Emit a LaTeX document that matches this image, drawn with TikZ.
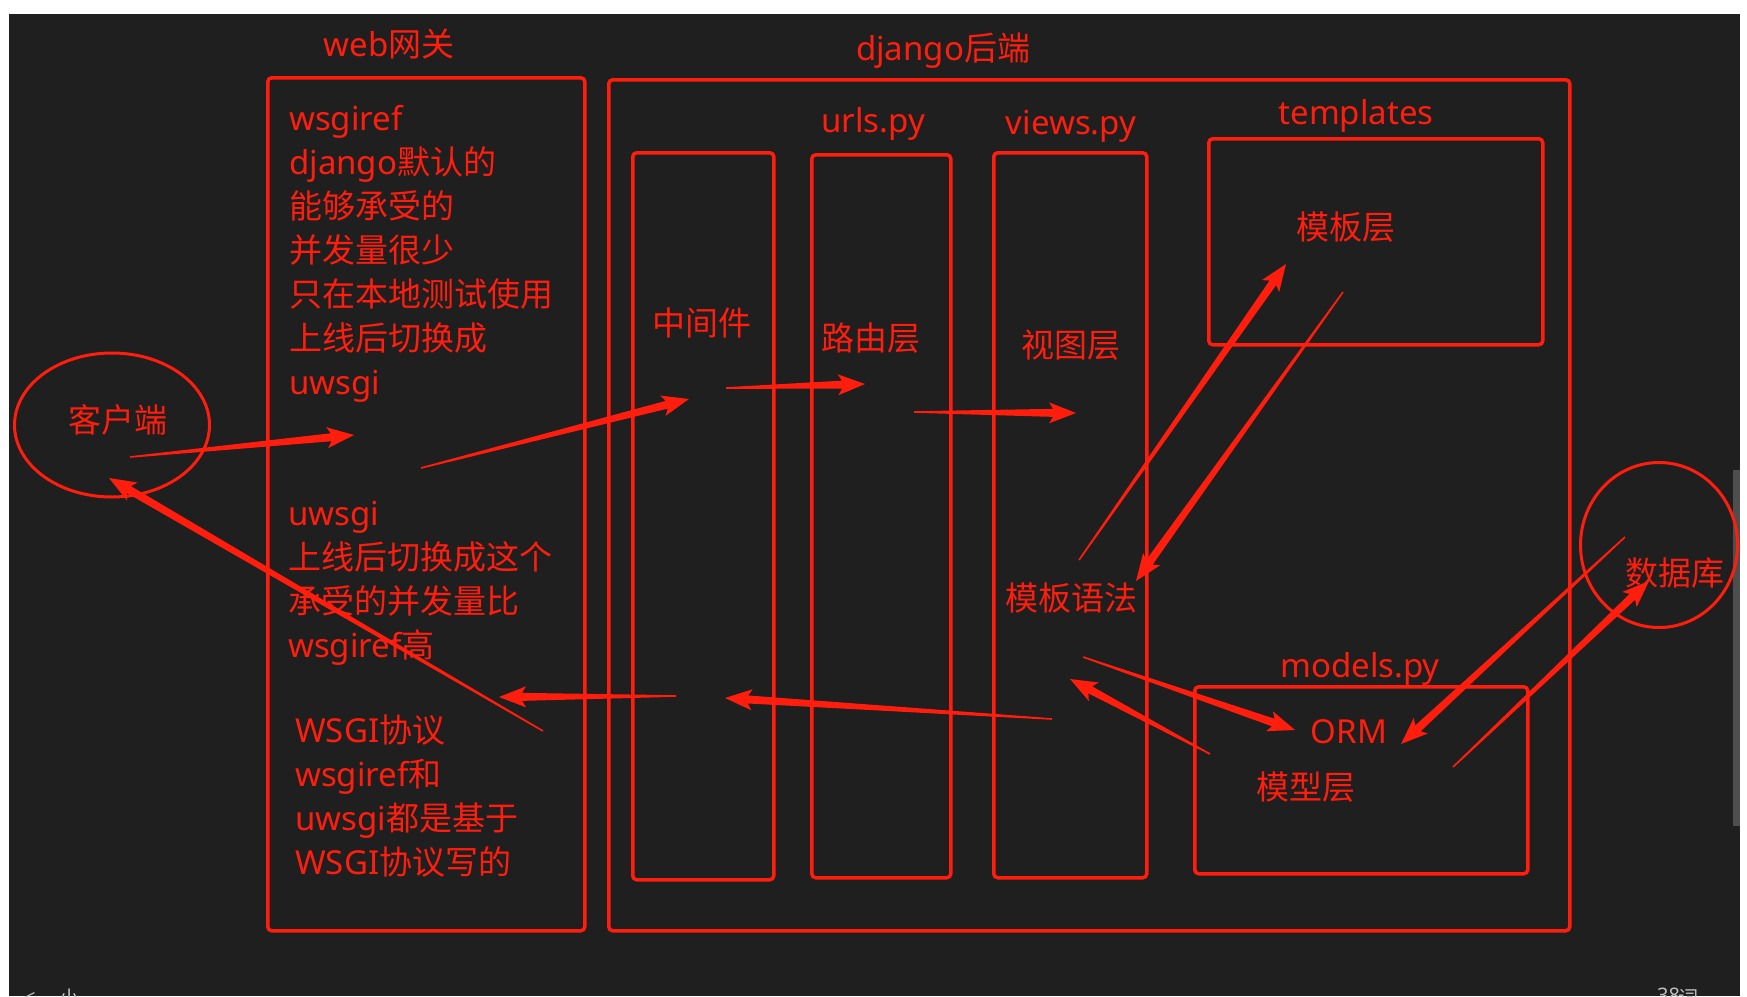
\documentclass[tikz,border=0pt]{standalone}
\usepackage{fontspec}
\setmainfont{Noto Sans CJK SC}
\newfontfamily\latf{Noto Sans}
\newcommand\lts[1]{{\latf #1}}
\usetikzlibrary{calc,shapes.geometric}
\definecolor{bg}{RGB}{31,31,31}
\definecolor{rd}{RGB}{255,30,14}
\definecolor{sb}{RGB}{78,78,78}
\definecolor{gr}{RGB}{190,190,190}
\tikzset{
  box/.style={draw=rd, line width=3.5pt, rounded corners=4pt, anchor=north west, inner sep=0pt},
  lbl/.style={text=rd, font=\fontsize{33}{40}\selectfont, inner sep=0pt, anchor=base},
  lln/.style={lbl, anchor=base west},
  ring/.style={draw=rd, line width=3pt, ellipse, inner sep=0pt},
  arr/.style={fill=rd},
  frag/.style={text=gr, font=\fontsize{20}{24}\selectfont, inner sep=0pt, anchor=base west},
}
\newcommand\tarrow[2]{%
  \coordinate (tn) at ($(#2)!23pt!(#1)$);
  \coordinate (tb) at ($(#2)!27pt!(#1)$);
  \fill[arr] ($(#1)!0.8pt!90:(#2)$) -- ($(tn)!4pt!90:(#2)$) -- ($(tb)!10.5pt!90:(#2)$) -- (#2)
    -- ($(tb)!10.5pt!-90:(#2)$) -- ($(tn)!4pt!-90:(#2)$) -- ($(#1)!0.8pt!-90:(#2)$) -- cycle;}
\begin{document}
\begin{tikzpicture}[x=1pt,y=-1pt]
\useasboundingbox (0,0) rectangle (1747,996);
\fill[white] (0,0) rectangle (1747,996);
\fill[bg] (9,14) rectangle (1740,996);
\fill[sb] (1733,470) rectangle (1740,826);

% boxes
\node[box, minimum width=317pt, minimum height=853pt] (web) at (266,76) {};
\node[box, minimum width=961pt, minimum height=851pt] (django) at (607,78) {};
\node[box, minimum width=141pt, minimum height=727pt] (mid) at (631,151) {};
\node[box, minimum width=139pt, minimum height=723pt] (urls) at (810,153) {};
\node[box, minimum width=153pt, minimum height=725pt] (views) at (992,151) {};
\node[box, minimum width=334pt, minimum height=206pt] (tmpl) at (1207,137) {};
\node[box, minimum width=333pt, minimum height=187pt] (models) at (1193,685) {};

% ellipses
\node[ring, minimum width=195pt, minimum height=144pt] (client) at (112,425) {};
\node[ring, minimum width=157pt, minimum height=165pt] (db) at (1659,545) {};

% titles and labels
\node[lbl] (tweb) at (389,56) {\lts{web}网关};
\node[lbl] (tdj) at (943,60) {\lts{django}后端};
\node[lbl] (turls) at (873,132) {\lts{urls.py}};
\node[lbl] (tviews) at (1071,134) {\lts{views.py}};
\node[lbl] (ttmpl) at (1356,124) {\lts{templates}};
\node[lbl] (tmodels) at (1360,677) {\lts{models.py}};
\node[lbl] (lmb) at (1346,239) {模板层};
\node[lbl] (lmid) at (702,335) {中间件};
\node[lbl] (lurl) at (871,350) {路由层};
\node[lbl] (lview) at (1071,357) {视图层};
\node[lbl] (lsyn) at (1071,610) {模板语法};
\node[lbl] (lorm) at (1349,743) {\lts{ORM}};
\node[lbl] (lmod) at (1306,799) {模型层};
\node[lbl] (lcli) at (118,432) {客户端};
\node[lbl] (ldb) at (1675,585) {数据库};

% web gateway text
\node[lln] (w1) at (289,130) {\lts{wsgiref}};
\node[lln] (w2) at (289,174) {\lts{django}默认的};
\node[lln] (w3) at (289,218) {能够承受的};
\node[lln] (w4) at (289,262) {并发量很少};
\node[lln] (w5) at (289,306) {只在本地测试使用};
\node[lln] (w6) at (289,350) {上线后切换成};
\node[lln] (w7) at (289,394) {\lts{uwsgi}};
\node[lln] (u1) at (288,525) {\lts{uwsgi}};
\node[lln] (u2) at (288,569) {上线后切换成这个};
\node[lln] (u3) at (288,613) {承受的并发量比};
\node[lln] (u4) at (288,657) {\lts{wsgiref}高};
\node[lln] (p1) at (295,742) {\lts{WSGI}协议};
\node[lln] (p2) at (295,786) {\lts{wsgiref}和};
\node[lln] (p3) at (295,830) {\lts{uwsgi}都是基于};
\node[lln] (p4) at (295,874) {\lts{WSGI}协议写的};

% cut-off status bar text
\begin{scope}
\clip (9,14) rectangle (1740,996);
\node[frag] (f1) at (24,1004) {\lts{<}};
\node[frag] (f2) at (59,1005) {小};
\node[frag] (f3) at (1657,1002) {\lts{38}};
\node[frag] (f4) at (1678,1005) {词};
\end{scope}

% arrow end points
\coordinate (a1s) at (130,457);  \coordinate (a1e) at (354,435);
\coordinate (a2s) at (421,468);  \coordinate (a2e) at (689,399);
\coordinate (a3s) at (726,388);  \coordinate (a3e) at (865,384);
\coordinate (a4s) at (914,412);  \coordinate (a4e) at (1076,413);
\coordinate (a5s) at (1079,560); \coordinate (a5e) at (1286,264);
\coordinate (a6s) at (1343,292); \coordinate (a6e) at (1136,581);
\coordinate (a7s) at (1083,657); \coordinate (a7e) at (1295,730);
\coordinate (a8s) at (1210,754); \coordinate (a8e) at (1070,679);
\coordinate (a9s) at (1052,719); \coordinate (a9e) at (725,698);
\coordinate (a10s) at (676,696); \coordinate (a10e) at (499,697);
\coordinate (a11s) at (543,731); \coordinate (a11e) at (109,478);
\coordinate (a12s) at (1625,537); \coordinate (a12e) at (1401,744);
\coordinate (a13s) at (1453,767); \coordinate (a13e) at (1649,581);

\tarrow{a1s}{a1e}
\tarrow{a2s}{a2e}
\tarrow{a3s}{a3e}
\tarrow{a4s}{a4e}
\tarrow{a5s}{a5e}
\tarrow{a6s}{a6e}
\tarrow{a7s}{a7e}
\tarrow{a8s}{a8e}
\tarrow{a9s}{a9e}
\tarrow{a10s}{a10e}
\tarrow{a11s}{a11e}
\tarrow{a12s}{a12e}
\tarrow{a13s}{a13e}
\end{tikzpicture}
\end{document}
